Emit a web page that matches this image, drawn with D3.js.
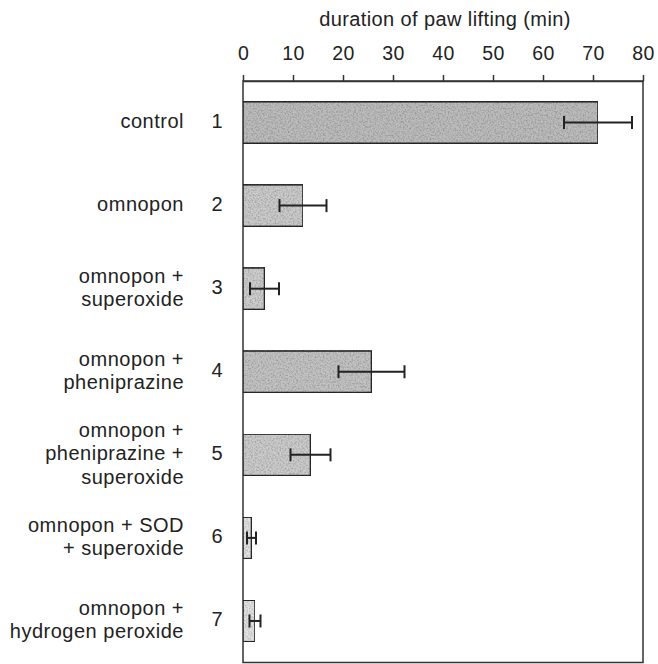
<!DOCTYPE html>
<html>
<head>
<meta charset="utf-8">
<script src="https://cdn.jsdelivr.net/npm/d3@7"></script>
<style>
  body { margin: 0; background: #fff; }
  text { font-family: "Liberation Sans", Arial, sans-serif; fill: #222; }
</style>
</head>
<body>
<div id="chart"></div>
<script>
const width = 658;
const height = 664;

// data
const groups = ["1", "2", "3", "4", "5", "6", "7"];
const labels = [
    ["control"],
    ["omnopon"],
    ["omnopon +", "superoxide"],
    ["omnopon +", "pheniprazine"],
    ["omnopon +", "pheniprazine +", "superoxide"],
    ["omnopon + SOD", "+ superoxide"],
    ["omnopon +", "hydrogen peroxide"]
];
const means = [71, 12, 4.3, 25.7, 13.5, 1.7, 2.4];
const errors = [6.8, 4.7, 2.9, 6.6, 4.0, 0.9, 1.1];
const xTicks = [0, 10, 20, 30, 40, 50, 60, 70, 80];

const shades = ["#bcbcbc", "#cacaca", "#cdcdcd", "#c2c2c2", "#cbcbcb", "#e2e2e2", "#e2e2e2"];

const plotLeft = 243, plotRight = 643, plotTop = 81, plotBottom = 662.5;

const svg = d3.select("#chart")
    .append("svg")
    .attr("width", width)
    .attr("height", height);

// speckled scan texture
const defs = svg.append("defs");
const filt = defs.append("filter").attr("id", "grain")
    .attr("x", 0).attr("y", 0).attr("width", 1).attr("height", 1);
filt.append("feTurbulence").attr("type", "fractalNoise")
    .attr("baseFrequency", 0.6).attr("numOctaves", 2).attr("seed", 3).attr("result", "noise");
filt.append("feColorMatrix").attr("in", "noise").attr("type", "matrix")
    .attr("values", "0 0 0 0 0  0 0 0 0 0  0 0 0 0 0  0 0 0 -0.9 0.55").attr("result", "dots");
filt.append("feComposite").attr("in", "dots").attr("in2", "SourceGraphic").attr("operator", "in").attr("result", "clipped");
filt.append("feMerge").selectAll("feMergeNode")
    .data(["SourceGraphic", "clipped"]).enter()
    .append("feMergeNode").attr("in", d => d);

const x = d3.scaleLinear().domain([0, 80]).range([plotLeft, plotRight]);
const y = d3.scaleBand().domain(groups).range([plotTop, plotBottom])
    .paddingInner(0.5).paddingOuter(0.25);

// frame
svg.append("rect")
    .attr("x", plotLeft).attr("y", plotTop)
    .attr("width", plotRight - plotLeft).attr("height", plotBottom - plotTop)
    .attr("fill", "none").attr("stroke", "#333").attr("stroke-width", 1.5);

// top axis
const axis = svg.append("g")
    .attr("transform", "translate(0," + plotTop + ")")
    .call(d3.axisTop(x).tickValues(xTicks).tickSize(6).tickSizeOuter(0).tickPadding(15));
axis.select(".domain").attr("stroke", "#333").attr("stroke-width", 1.5);
axis.selectAll(".tick line").attr("stroke", "#333").attr("stroke-width", 1.5);
axis.selectAll(".tick text")
    .attr("fill", "#222")
    .style("font-size", "19.5px")
    .style("letter-spacing", "0.3px")
    .style("font-family", "Liberation Sans, Arial, sans-serif");

svg.append("text")
    .attr("x", (plotLeft + plotRight) / 2 + 2)
    .attr("y", 26)
    .attr("text-anchor", "middle")
    .style("font-size", "20px")
    .style("letter-spacing", "0.4px")
    .text("duration of paw lifting (min)");

// bars
const rows = groups.map((g, i) => ({ id: g, lines: labels[i], mean: means[i], err: errors[i], shade: shades[i] }));

svg.selectAll(".bar")
    .data(rows)
    .enter()
    .append("rect")
    .attr("class", "bar")
    .attr("x", x(0))
    .attr("y", d => y(d.id))
    .attr("width", d => x(d.mean) - x(0))
    .attr("height", y.bandwidth())
    .attr("fill", d => d.shade)
    .attr("filter", "url(#grain)")
    .attr("stroke", "#2a2a2a")
    .attr("stroke-width", 1.6);

// error bars
const eb = svg.selectAll(".err")
    .data(rows)
    .enter()
    .append("g")
    .attr("class", "err")
    .attr("stroke", "#222")
    .attr("stroke-width", 2);
const cy = d => y(d.id) + y.bandwidth() / 2;
eb.append("line")
    .attr("x1", d => x(d.mean - d.err)).attr("x2", d => x(d.mean + d.err))
    .attr("y1", cy).attr("y2", cy);
eb.append("line")
    .attr("x1", d => x(d.mean - d.err)).attr("x2", d => x(d.mean - d.err))
    .attr("y1", d => cy(d) - 6.5).attr("y2", d => cy(d) + 6.5);
eb.append("line")
    .attr("x1", d => x(d.mean + d.err)).attr("x2", d => x(d.mean + d.err))
    .attr("y1", d => cy(d) - 6.5).attr("y2", d => cy(d) + 6.5);

// group numbers
svg.selectAll(".num")
    .data(rows)
    .enter()
    .append("text")
    .attr("class", "num")
    .attr("x", 217)
    .attr("y", d => cy(d) + 5)
    .attr("text-anchor", "middle")
    .style("font-size", "20px")
    .text(d => d.id);

// category labels
const lineH = 23.3;
svg.selectAll(".lab")
    .data(rows)
    .enter()
    .append("text")
    .attr("class", "lab")
    .attr("text-anchor", "end")
    .style("font-size", "20px")
    .style("letter-spacing", "0.5px")
    .each(function (d) {
        const t = d3.select(this);
        const y0 = cy(d) + 5.5 - (d.lines.length - 1) * lineH / 2;
        d.lines.forEach((s, k) => {
            t.append("tspan").attr("x", 184).attr("y", y0 + k * lineH).text(s);
        });
    });
</script>
</body>
</html>
